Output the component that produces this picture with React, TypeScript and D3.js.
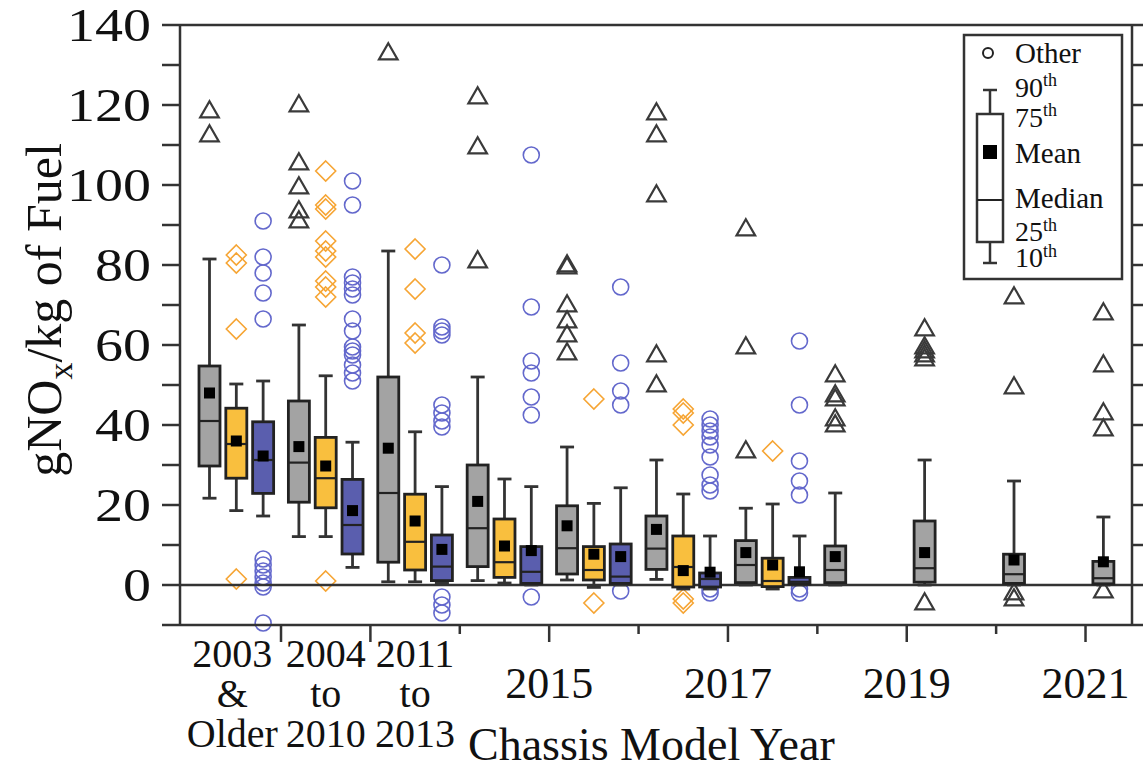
import React from 'react';
import * as d3 from 'd3';

// group slots: 2003&Older, 2004-2010, 2011-2013, 2014 ... 2021
const slotYears = [2011, 2012, 2013, 2014, 2015, 2016, 2017, 2018, 2019, 2020, 2021];
const rangeLabels = [['2003', '&', 'Older'], ['2004', 'to', '2010'], ['2011', 'to', '2013']];
const yearTickLabels = [2015, 2017, 2019, 2021];
const yTicks = [0, 20, 40, 60, 80, 100, 120, 140];

// gray (all groups)
const grayP90 = [81.5, 65, 83.5, 52, 34.5, 31.25, 19.2, 23, 31.25, 26, 17];
const grayQ3 = [54.75, 46, 52, 30, 19.8, 17.25, 11.1, 9.75, 16, 7.7, 5.9];
const grayMed = [41, 30.6, 23, 14.2, 9.2, 9.1, 5, 3.75, 4.2, 2.7, 1.7];
const grayQ1 = [29.75, 20.7, 5.7, 4.6, 2.75, 3.9, 0.6, 0.6, 0.7, 0.4, 0.3];
const grayP10 = [21.7, 12.1, 0.8, 1.1, 1.25, 1.4, 0, 0, 0, 0, 0];
const grayMean = [48, 34.6, 34.2, 20.9, 14.8, 13.9, 8.1, 7.1, 8.1, 6.25, 5.8];
const grayOut = [
  [118.5, 112.5],
  [120, 105.5, 99.5, 93.5, 91],
  [133],
  [122, 109.5, 81],
  [80, 79.5, 70, 66, 62.5, 58],
  [118, 112.5, 97.5, 57.5, 50],
  [89, 59.5, 33.5],
  [52.5, 47.5, 46.5, 41.5, 40],
  [64, 59.5, 58.5, 57.5, 56.5, -4.5],
  [72, 49.5, -2, -3.5],
  [68, 55, 43, 39, -1.5],
];

// orange (first 7 groups)
const orangeP90 = [50.25, 52.3, 38.3, 26.5, 20.4, 22.75, 20.25];
const orangeQ3 = [44.2, 36.9, 22.7, 16.5, 9.6, 12.25, 6.7];
const orangeMed = [35.25, 26.7, 10.8, 5.7, 3.75, 4.5, 1];
const orangeQ1 = [26.7, 19.3, 3.75, 1.9, 1.25, -0.5, -0.4];
const orangeP10 = [18.6, 12.1, 0.8, 0.5, -0.6, -1, -1];
const orangeMean = [36, 29.75, 16, 9.75, 7.7, 3.6, 5];
const orangeOut = [
  [82.5, 80.5, 64, 1.5],
  [103.5, 95, 94, 86, 83.5, 82, 76, 74.5, 72, 1],
  [84, 74, 63, 60.5],
  [],
  [46.5, -4.5],
  [44, 43, 40, -3.5, -4.5],
  [33.5],
];

// blue (first 7 groups)
const blueP90 = [51, 35.7, 24.6, 24.6, 24.3, 12.25, 12.25];
const blueQ3 = [40.8, 26.4, 12.5, 9.6, 10.25, 3, 1.9];
const blueMed = [31.25, 15, 4.6, 3.3, 2.1, 1.5, 0.8];
const blueQ1 = [22.9, 7.75, 1.1, 0.4, 0.4, -0.5, 0.25];
const blueP10 = [17.25, 4.4, 0.5, 0, 0, -1, 0];
const blueMean = [32.25, 18.6, 8.9, 8.6, 7.1, 3.2, 3.3];
const blueOut = [
  [91, 82, 78, 73, 66.5, 6.5, 5, 3.5, 2, 0.5, -0.5, -9.5],
  [101, 95, 77, 75.5, 74, 72.5, 66.5, 63.5, 59.5, 58.5, 57.5, 55, 53, 51],
  [80, 64.5, 63.5, 62.5, 45, 43, 41, 39.5, -3, -5, -7],
  [107.5, 69.5, 56, 53, 47, 42.5, -3],
  [74.5, 55.5, 48.5, 45, -1.5],
  [41.5, 40, 38.5, 37, 35, 32, 27.5, 25, 23.5, -1, -2],
  [61, 45, 31, 26, 22.5, -1, -2],
];

const FONT = '"Liberation Serif", "Times New Roman", serif';
const AXIS = '#333';

const series = [
  { p90: grayP90, q3: grayQ3, med: grayMed, q1: grayQ1, p10: grayP10, mean: grayMean, out: grayOut, offset: 0.2, fill: '#a3a3a3', marker: 'triangle', mcolor: '#3a3a3a' },
  { p90: orangeP90, q3: orangeQ3, med: orangeMed, q1: orangeQ1, p10: orangeP10, mean: orangeMean, out: orangeOut, offset: 0.5, fill: '#f9bf3e', marker: 'diamond', mcolor: '#f6a534' },
  { p90: blueP90, q3: blueQ3, med: blueMed, q1: blueQ1, p10: blueP10, mean: blueMean, out: blueOut, offset: 0.8, fill: '#5a5eae', marker: 'circle', mcolor: '#6368cc' },
];

const App: React.FC = () => {
  const width = 1145;
  const height = 769;
  const left = 180;
  const right = 1132;
  const top = 25;
  const bottom = 625;

  const x = d3.scaleLinear().domain([2010.87, 2021.52]).range([left, right]);
  const y = d3.scaleLinear().domain([-10, 140]).range([bottom, top]);
  const boxW = 21;
  const capW = 14;

  const triangle = d3.symbol().type(d3.symbolTriangle).size(150)();
  const diamond = (cx: number, cy: number) => {
    const r = 10;
    return `M${cx},${cy - r}L${cx + r},${cy}L${cx},${cy + r}L${cx - r},${cy}Z`;
  };

  const minorY = d3.range(-10, 141, 10);

  return (
    <svg width={width} height={height} style={{ position: 'absolute', left: 0, top: 0, background: '#fff' }} fontFamily={FONT}>
      {/* outliers */}
      {series.map((s, si) =>
        s.out.map((vals, gi) =>
          vals.map((v, k) => {
            const cx = x(slotYears[gi] + s.offset);
            const cy = y(v);
            if (s.marker === 'triangle')
              return <path key={`o${si}-${gi}-${k}`} d={triangle} transform={`translate(${cx},${cy + 1})`} fill="none" stroke={s.mcolor} strokeWidth={2.2} />;
            if (s.marker === 'diamond')
              return <path key={`o${si}-${gi}-${k}`} d={diamond(cx, cy)} fill="none" stroke={s.mcolor} strokeWidth={1.6} />;
            return <circle key={`o${si}-${gi}-${k}`} cx={cx} cy={cy} r={8} fill="none" stroke={s.mcolor} strokeWidth={1.6} />;
          })
        )
      )}

      {/* zero line */}
      <line x1={left} x2={right} y1={y(0)} y2={y(0)} stroke={AXIS} strokeWidth={2.5} />

      {/* boxes */}
      {series.map((s, si) =>
        s.q3.map((_, gi) => {
          const cx = x(slotYears[gi] + s.offset);
          return (
            <g key={`b${si}-${gi}`}>
              <line x1={cx} x2={cx} y1={y(s.p90[gi])} y2={y(s.q3[gi])} stroke={AXIS} strokeWidth={2.8} />
              <line x1={cx} x2={cx} y1={y(s.q1[gi])} y2={y(s.p10[gi])} stroke={AXIS} strokeWidth={2.8} />
              <line x1={cx - capW / 2} x2={cx + capW / 2} y1={y(s.p90[gi])} y2={y(s.p90[gi])} stroke={AXIS} strokeWidth={2.8} />
              <line x1={cx - capW / 2} x2={cx + capW / 2} y1={y(s.p10[gi])} y2={y(s.p10[gi])} stroke={AXIS} strokeWidth={2.8} />
              <rect x={cx - boxW / 2} y={y(s.q3[gi])} width={boxW} height={Math.max(1, y(s.q1[gi]) - y(s.q3[gi]))} fill={s.fill} stroke="#222" strokeWidth={2.8} />
              <line x1={cx - boxW / 2} x2={cx + boxW / 2} y1={y(s.med[gi])} y2={y(s.med[gi])} stroke="#222" strokeWidth={2.2} />
              <rect x={cx - 5.5} y={y(s.mean[gi]) - 5.5} width={11} height={11} fill="#000" />
            </g>
          );
        })
      )}

      {/* frame */}
      <line x1={left} x2={right} y1={top} y2={top} stroke={AXIS} strokeWidth={2.5} />
      <line x1={left} x2={right} y1={bottom} y2={bottom} stroke={AXIS} strokeWidth={2.5} />
      <line x1={left} x2={left} y1={top} y2={bottom} stroke={AXIS} strokeWidth={2.5} />
      <line x1={right} x2={right} y1={top} y2={bottom} stroke={AXIS} strokeWidth={2.5} />

      {/* y ticks */}
      {minorY.map((v) => (
        <g key={`yt${v}`}>
          <line x1={left - 18} x2={left} y1={y(v)} y2={y(v)} stroke={AXIS} strokeWidth={2.5} />
          <line x1={right} x2={right + 11} y1={y(v)} y2={y(v)} stroke={AXIS} strokeWidth={2.5} />
        </g>
      ))}
      {yTicks.map((v) => {
        const s = String(v);
        return (
          <text key={`yl${v}`} x={left - 29} y={y(v)} dy="0.34em" textAnchor="end" fontSize={47} fill="#111"
            textLength={s.length * 28} lengthAdjust="spacingAndGlyphs">
            {s}
          </text>
        );
      })}

      {/* x ticks */}
      {d3.range(2012, 2022).map((yr) => (
        <line key={`xt${yr}`} x1={x(yr)} x2={x(yr)} y1={bottom} y2={bottom + (yr % 2 === 0 && yr !== 2012 ? 9 : 17)} stroke={AXIS} strokeWidth={2.5} />
      ))}
      {yearTickLabels.map((yr) => (
        <text key={`xl${yr}`} x={x(yr)} y={698} textAnchor="middle" fontSize={44} fill="#111">
          {yr}
        </text>
      ))}
      {rangeLabels.map((lines, i) => (
        <text key={`rl${i}`} x={x(slotYears[i] + 0.5)} textAnchor="middle" fontSize={40} fill="#111">
          {lines.map((t, j) => (
            <tspan key={j} x={x(slotYears[i] + 0.5) - (i === 0 ? 4 : 0)} y={667 + j * 40}>
              {t}
            </tspan>
          ))}
        </text>
      ))}

      {/* axis titles */}
      <text x={468} y={760} fontSize={46} fill="#111">Chassis Model Year</text>
      <text transform={`translate(61,${310}) rotate(-90)`} textAnchor="middle" fontSize={50} fill="#111">
        gNO<tspan fontSize={34} dy={11}>x</tspan>
        <tspan dy={-11}>/kg of Fuel</tspan>
      </text>

      {/* legend */}
      <g>
        <rect x={964} y={35} width={158} height={244} fill="#fff" stroke={AXIS} strokeWidth={2.5} />
        <circle cx={988} cy={53} r={5} fill="none" stroke="#222" strokeWidth={2} />
        <text x={1015} y={63} fontSize={29} fill="#111">Other</text>
        <line x1={990} x2={990} y1={90} y2={114} stroke={AXIS} strokeWidth={2.5} />
        <line x1={983} x2={997} y1={90} y2={90} stroke={AXIS} strokeWidth={2.5} />
        <line x1={990} x2={990} y1={242} y2={263} stroke={AXIS} strokeWidth={2.5} />
        <line x1={983} x2={997} y1={263} y2={263} stroke={AXIS} strokeWidth={2.5} />
        <rect x={977} y={114} width={26} height={128} fill="#fff" stroke={AXIS} strokeWidth={2.5} />
        <line x1={977} x2={1003} y1={200} y2={200} stroke="#222" strokeWidth={2} />
        <rect x={983} y={145} width={14} height={14} fill="#000" />
        <text x={1015} y={97} fontSize={28} fill="#111">90<tspan fontSize={18} dy={-11}>th</tspan></text>
        <text x={1015} y={127} fontSize={28} fill="#111">75<tspan fontSize={18} dy={-11}>th</tspan></text>
        <text x={1015} y={163} fontSize={29} fill="#111">Mean</text>
        <text x={1015} y={208} fontSize={29} fill="#111">Median</text>
        <text x={1015} y={241} fontSize={28} fill="#111">25<tspan fontSize={18} dy={-10}>th</tspan></text>
        <text x={1015} y={267} fontSize={28} fill="#111">10<tspan fontSize={18} dy={-10}>th</tspan></text>
      </g>
    </svg>
  );
};

export default App;
